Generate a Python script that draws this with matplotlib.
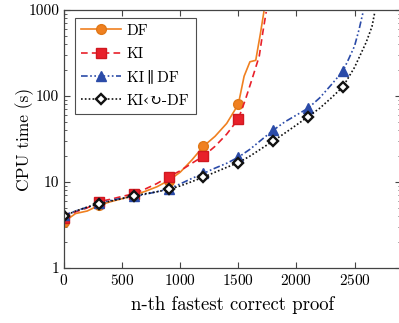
import matplotlib
matplotlib.use("Agg")
import matplotlib.pyplot as plt
from matplotlib.ticker import LogLocator, NullFormatter, FixedLocator

plt.rcParams['font.family'] = ['cmr10', 'DejaVu Serif', 'DejaVu Sans']
plt.rcParams['mathtext.fontset'] = 'cm'
plt.rcParams['axes.formatter.use_mathtext'] = True

# ---- data ----
df_x = [0, 100, 200, 300, 400, 500, 600, 700, 800, 900, 1000, 1100, 1200, 1300, 1400, 1500, 1550, 1600, 1650, 1690, 1720]
df_y = [3.45, 4.3, 4.6, 5.35, 5.9, 6.4, 7.0, 7.8, 8.8, 10.4, 13, 18, 26, 34, 48, 80, 170, 250, 260, 530, 950]

ki_x = [0, 100, 200, 300, 400, 500, 600, 700, 800, 900, 1000, 1100, 1200, 1300, 1400, 1500, 1560, 1620, 1680, 1710, 1740]
ki_y = [3.8, 4.5, 5.0, 5.9, 6.3, 6.8, 7.3, 8.3, 9.6, 11.5, 13.5, 16.5, 20, 26, 36, 54, 90, 160, 290, 540, 950]

par_x = [0, 100, 200, 300, 400, 500, 600, 700, 800, 900, 1000, 1100, 1200, 1300, 1400, 1500, 1600, 1700, 1800,
         1900, 2000, 2100, 2200, 2300, 2400, 2450, 2500, 2540, 2574]
par_y = [4.1, 4.6, 5.1, 5.7, 6.1, 6.5, 6.8, 7.2, 7.7, 8.3, 9.5, 11, 12.6, 14.5, 16.5, 19.4, 24, 31, 40,
         50, 60, 72, 95, 135, 195, 270, 380, 600, 950]

seq_x = [0, 100, 200, 300, 400, 500, 600, 700, 800, 900, 1000, 1100, 1200, 1300, 1400, 1500, 1600, 1700, 1800,
         1900, 2000, 2100, 2200, 2300, 2400, 2500, 2600, 2650, 2675]
seq_y = [4.0, 4.6, 5.1, 5.55, 6.0, 6.4, 6.9, 7.3, 7.7, 8.2, 9.0, 10.1, 11.4, 13, 14.8, 16.8, 20, 24.5, 30,
         37, 46, 57.5, 72, 95, 128, 215, 420, 640, 950]

labels = ["DF", "KI", "KI\u2009\u2225\u2009DF", "KI\u2039\u21bb-DF"]
x_ticks = [0, 500, 1000, 1500, 2000, 2500]
y_ticks = [1, 10, 100, 1000]
y_tick_labels = ["1", "10", "100", "1000"]

fig = plt.figure(figsize=(3.99, 3.23), dpi=100)
ax = fig.add_axes([64 / 399, 55 / 323, 337 / 399, 258 / 323])

def marks(xs):
    return [i for i, v in enumerate(xs) if v % 300 == 0]

ax.plot(df_x, df_y, color='#F08020', lw=1.2, ls='-', marker='o', ms=7,
        markevery=marks(df_x), mec='#E07818', label=labels[0])
ax.plot(ki_x, ki_y, color='#E8202A', lw=1.2, ls=(0, (4, 2.5)), marker='s', ms=7,
        markevery=marks(ki_x), mec='#D01820', label=labels[1])
ax.plot(par_x, par_y, color='#2B4BA8', lw=1.2, ls=(0, (4, 1.5, 1, 1.5, 1, 1.5)), marker='^', ms=7,
        markevery=marks(par_x), label=labels[2])
ax.plot(seq_x, seq_y, color='#111111', lw=1.2, ls=(0, (1, 1.3)), marker='D', ms=5.3,
        markevery=marks(seq_x), mfc='white', mec='#111111', mew=1.7, label=labels[3])

ax.set_yscale('log')
ax.set_xlim(0, 2900)
ax.set_ylim(1, 1000)
ax.xaxis.set_major_locator(FixedLocator(x_ticks))
ax.set_yticks(y_ticks)
ax.set_yticklabels(y_tick_labels)
ax.yaxis.set_minor_locator(LogLocator(base=10, subs=range(2, 10)))
ax.yaxis.set_minor_formatter(NullFormatter())
ax.tick_params(which='both', direction='in', top=True, right=True, labelsize=11, color='#444444')
ax.tick_params(which='major', length=4, width=0.8)
ax.tick_params(which='minor', length=2.5, width=0.6)
for s in ax.spines.values():
    s.set_color('#444444')
    s.set_linewidth(0.9)

ax.set_xlabel("n-th fastest correct proof", fontsize=13.5, labelpad=6)
ax.set_ylabel("CPU time (s)", fontsize=12.5, labelpad=-4)

leg = ax.legend(loc='upper left', bbox_to_anchor=(11 / 337, 1 - 8 / 258), fontsize=11,
                frameon=True, fancybox=False, edgecolor='#222222', handlelength=2.6,
                borderpad=0.4, labelspacing=0.62, handletextpad=0.4, borderaxespad=0)
leg.get_frame().set_linewidth(0.8)

fig.savefig("out.png", dpi=100)
